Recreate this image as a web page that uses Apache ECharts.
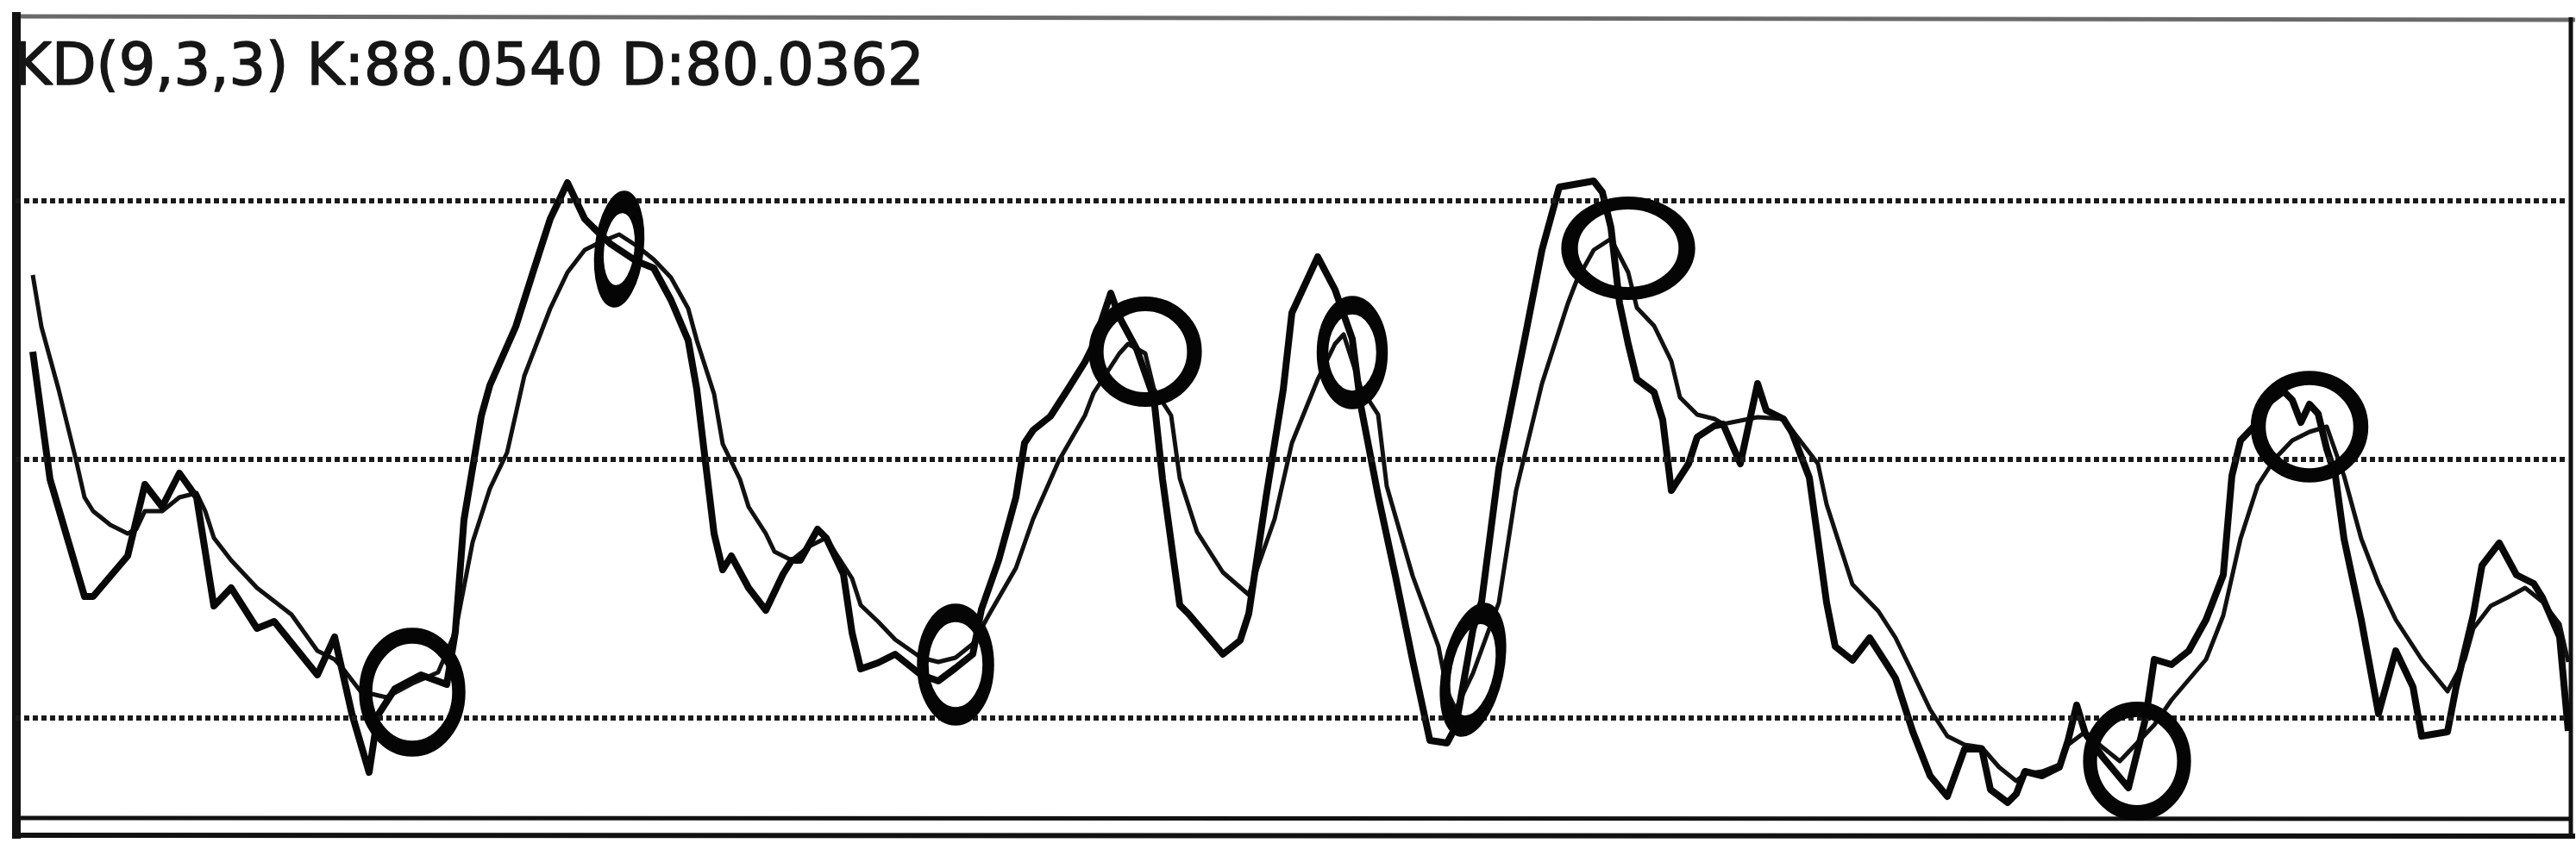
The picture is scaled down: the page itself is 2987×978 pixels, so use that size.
<!DOCTYPE html>
<html>
<head>
<meta charset="utf-8">
<script src="https://cdn.jsdelivr.net/npm/echarts@6/dist/echarts.min.js"></script>
<style>
  html, body { margin: 0; padding: 0; background: #ffffff; }
  #chart { width: 2987px; height: 978px; }
</style>
</head>
<body>
<div id="chart"></div>
<script>
// ---------- DATA ----------
const titleText = 'KD(9,3,3) K:88.0540 D:80.0362';

// K line: trading-day index and value
const kDays = [2,4,8,9,13,15,17,19,21,23,25,28,30,35,37,39,41,42,44,47,50,51,52,54,55,58,60,62,64,66,67,69,72,74,76,78,79,80,81,82,83,85,87,89,90,91,93,94,96,97,98,100,102,105,107,109,111,112,114,116,117,118,120,122,124,125,127,128,130,132,133,135,136,140,142,143,145,147,148,151,153,155,156,158,160,162,164,166,167,169,170,172,175,177,179,183,184,185,186,187,188,190,191,192,194,195,197,198,200,202,203,205,206,208,209,210,211,213,215,217,218,220,222,224,226,228,229,231,232,233,235,237,238,239,240,242,245,247,248,250,252,254,256,257,258,260,261,263,264,265,266,267,268,269,270,272,274,276,278,279,282,283,285,286,288,290,292,293,295,296];
const kValues = [62.5,47.7,34.1,34.1,38.8,47.1,44.5,48.4,45.6,33.0,35.1,30.4,31.2,25.0,29.4,20.5,13.7,20.3,23.4,25.0,23.9,30.0,43.0,55.0,58.6,65.4,71.7,77.9,82.1,77.9,76.9,75.0,73.0,72.2,68.5,63.8,58.1,49.7,41.4,37.2,38.8,35.1,32.5,36.7,38.3,38.3,41.9,40.9,36.7,29.9,25.7,26.4,27.4,25.0,24.3,25.8,27.4,32.6,38.3,45.6,51.9,53.4,55.0,58.1,61.3,63.3,69.3,66.5,62.8,57.1,47.7,33.1,32.1,27.4,29.0,32.1,45.6,58.1,67.0,73.5,69.7,64.0,56.2,45.8,36.5,26.7,17.4,17.1,19.0,30.3,33.5,49.0,64.0,74.3,81.6,82.3,81.0,76.9,68.1,63.4,59.3,57.8,54.6,46.4,49.5,52.6,53.9,54.1,49.5,58.8,55.7,54.7,53.1,47.9,40.7,33.4,28.3,26.7,29.3,26.2,24.6,18.4,13.3,10.9,16.4,16.4,11.7,10.2,11.2,13.8,13.3,14.3,17.4,21.5,18.2,15.5,11.9,20.0,26.8,26.2,27.8,31.4,36.6,48.1,52.2,54.3,56.4,57.9,56.9,54.3,56.4,55.3,51.2,48.1,40.8,31.4,20.5,27.8,23.6,17.9,18.4,23.6,32.0,37.7,40.3,36.6,35.6,34.0,29.4,18.5];

// D line: trading-day index and value
const dDays = [2,3,5,7,8,9,11,13,14,15,17,19,21,22,23,25,28,32,35,37,38,40,43,46,49,51,53,55,57,59,62,64,66,68,70,72,74,76,78,79,81,82,84,85,87,88,90,92,94,95,97,98,100,102,105,107,109,111,113,116,118,121,124,125,128,129,131,132,134,135,137,140,143,144,146,148,151,153,154,156,158,159,162,165,166,167,169,172,174,177,180,181,183,185,187,188,190,192,193,195,197,198,202,205,207,209,210,212,213,216,218,220,222,224,226,228,230,232,233,235,237,238,240,242,244,248,250,254,256,258,260,262,264,266,268,270,272,274,276,279,282,284,285,287,289,291,293,295,296];
const dValues = [71.4,65.4,58.1,50.0,45.6,44.0,42.4,41.4,41.9,44.0,44.0,45.6,46.1,44.0,40.9,38.3,35.1,32.0,27.8,26.8,25.7,23.1,22.4,24.0,25.3,30.0,40.4,46.6,50.8,59.7,67.5,71.7,74.3,75.3,76.1,74.8,73.2,71.1,67.5,63.8,57.6,51.8,47.7,44.5,41.4,39.3,38.3,39.9,40.9,39.3,36.2,33.1,31.2,29.1,27.0,26.5,27.0,28.6,32.2,37.4,43.1,49.9,55.1,57.7,62.3,63.4,62.3,58.2,55.1,47.8,41.6,36.9,34.3,37.4,43.1,51.9,59.3,63.4,64.5,58.3,55.2,46.9,36.5,28.3,23.1,21.0,25.2,33.4,46.4,58.8,68.1,70.7,74.3,75.6,71.7,67.6,65.5,61.4,57.2,55.2,54.7,54.1,54.9,54.7,52.1,49.5,44.8,38.6,35.5,32.4,29.3,25.2,21.0,17.9,16.9,16.6,14.3,12.7,13.5,13.8,14.6,16.9,18.4,16.6,15.0,19.2,22.1,26.8,31.9,40.8,47.0,50.1,52.2,53.2,53.8,48.1,40.8,35.6,31.4,26.8,23.1,26.8,30.4,33.0,34.0,35.1,33.5,30.9,26.5];

// Hand-drawn cross-over circles: day and value of each centre
const circleDays = [46, 70, 109, 131, 155, 169, 187, 246, 266];
const circleValues = [23.0, 74.4, 26.2, 62.5, 62.4, 25.6, 74.5, 15.0, 53.8];

// Reference levels drawn as dotted lines
const levels = [20, 50, 80];

// ---------- STYLE ----------
const circleSizes = [[108,131],[46,110],[76,120],[114,111],[69,110],[60,133],[136,105],[109,120],[119,113]];
const circleRot = [0, -6, 0, 0, 0, -12, 0, 0, 0];

const kData = kDays.map((d, i) => [d, kValues[i]]);
const dData = dDays.map((d, i) => [d, dValues[i]]);
const circleData = circleDays.map((d, i) => ({
  value: [d, circleValues[i]],
  symbolSize: circleSizes[i],
  symbolRotate: circleRot[i]
}));

const chart = echarts.init(document.getElementById('chart'), null, { renderer: 'canvas' });
chart.setOption({
  backgroundColor: '#ffffff',
  animation: false,
  title: {
    text: titleText,
    left: 16,
    top: 47,
    padding: 0,
    textStyle: {
      fontFamily: 'DejaVu Sans', fontSize: 67, fontWeight: 'normal', color: '#161616',
      textBorderColor: '#161616', textBorderWidth: 1.5
    }
  },
  grid: { left: 18, right: 9, top: 20, bottom: 30, containLabel: false, show: false },
  xAxis: { type: 'value', min: 0, max: 296, show: false, splitLine: { show: false } },
  yAxis: { type: 'value', min: 8.5, max: 101.3, show: false, splitLine: { show: false } },
  graphic: [
    { type: 'line', shape: { x1: 14, y1: 19, x2: 2986, y2: 23 }, style: { stroke: '#6a6a6a', lineWidth: 5 }, z: 1 },
    { type: 'line', shape: { x1: 19, y1: 14, x2: 19, y2: 973 }, style: { stroke: '#111', lineWidth: 10 }, z: 1 },
    { type: 'line', shape: { x1: 2981, y1: 20, x2: 2981, y2: 973 }, style: { stroke: '#111', lineWidth: 5 }, z: 1 },
    { type: 'line', shape: { x1: 18, y1: 949, x2: 2981, y2: 950 }, style: { stroke: '#111', lineWidth: 5 }, z: 1 },
    { type: 'line', shape: { x1: 14, y1: 969, x2: 2986, y2: 970 }, style: { stroke: '#111', lineWidth: 6 }, z: 1 }
  ],
  series: [
    {
      name: 'levels', type: 'line', data: [], z: 1, silent: true,
      markLine: {
        silent: true, symbol: 'none', label: { show: false },
        lineStyle: { type: [6, 4], width: 6, color: '#1a1a1a', opacity: 1 },
        data: levels.map(v => ({ yAxis: v }))
      }
    },
    {
      name: 'D', type: 'line', data: dData, showSymbol: false, symbol: 'none', z: 3,
      lineStyle: { color: '#111', width: 5, join: 'round' }
    },
    {
      name: 'K', type: 'line', data: kData, showSymbol: false, symbol: 'none', z: 4,
      lineStyle: { color: '#080808', width: 8, join: 'round' }
    },
    {
      name: 'circles', type: 'scatter', data: circleData, symbol: 'circle', z: 6, clip: false,
      itemStyle: { color: 'rgba(0,0,0,0)', borderColor: '#050505', borderWidth: 17, opacity: 1 }
    }
  ]
});
</script>
</body>
</html>
